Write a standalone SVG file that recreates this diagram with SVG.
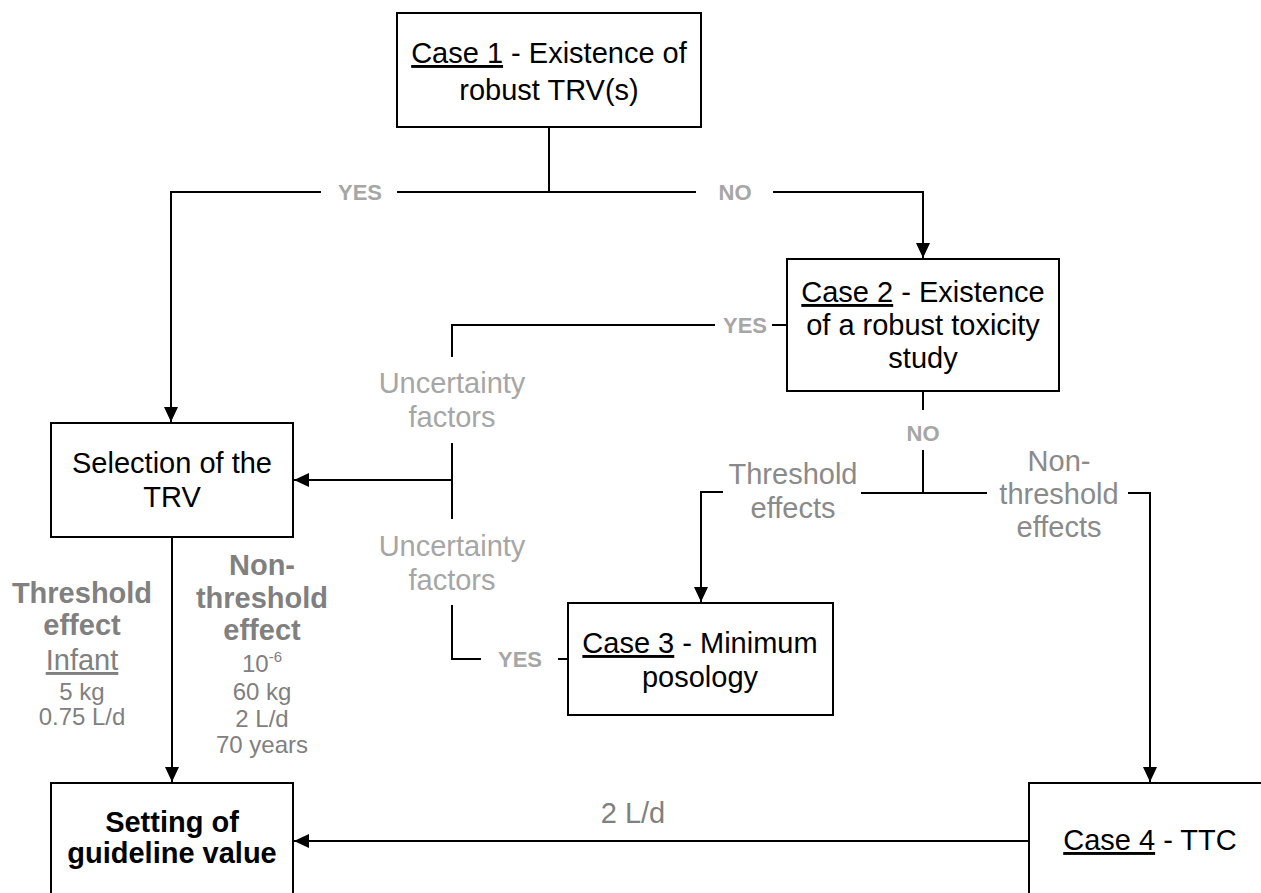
<svg xmlns="http://www.w3.org/2000/svg" width="1261" height="893" viewBox="0 0 1261 893">
<style>
  .box { fill: #fff; stroke: #000; stroke-width: 2; }
  .t { font-family: "Liberation Sans", Arial, sans-serif; font-size: 29px; fill: #000; text-anchor: middle; }
  .b { font-weight: bold; }
  .yn { font-family: "Liberation Sans", Arial, sans-serif; font-size: 22px; font-weight: bold; fill: #a6a6a6; text-anchor: middle; }
  .lg { fill: #a6a6a6; }
  .mg { fill: #8a8a8a; }
  .dg { fill: #808080; }
  .sm { font-size: 24px; }
  .u { text-decoration: underline; }
  .ln { fill: none; stroke: #000; stroke-width: 2; }
</style>
<defs>
  <marker id="ah" markerUnits="userSpaceOnUse" markerWidth="16" markerHeight="14" refX="15" refY="7" orient="auto">
    <path d="M0,0 L15,7 L0,14 Z" fill="#000"/>
  </marker>
</defs>

<g id="connectors">
  <!-- Case 1 split -->
  <path class="ln" d="M549,127 V192"/>
  <path class="ln" d="M321,192 H171 V422" marker-end="url(#ah)"/>
  <path class="ln" d="M397,192 H696"/>
  <path class="ln" d="M773,192 H923 V258" marker-end="url(#ah)"/>
  <!-- Case 2 YES to selection -->
  <path class="ln" d="M715,325 H452 V357"/>
  <path class="ln" d="M772,325 H787"/>
  <path class="ln" d="M452,443 V519"/>
  <path class="ln" d="M452,480 H294" marker-end="url(#ah)"/>
  <path class="ln" d="M452,605 V659 H481"/>
  <path class="ln" d="M558,659 H568"/>
  <!-- Case 2 NO -->
  <path class="ln" d="M923,391 V410"/>
  <path class="ln" d="M923,450 V493"/>
  <path class="ln" d="M861,493 H987"/>
  <path class="ln" d="M723,492 H701 V602" marker-end="url(#ah)"/>
  <path class="ln" d="M1128,493 H1150 V782" marker-end="url(#ah)"/>
  <!-- Selection to setting -->
  <path class="ln" d="M172,537 V782" marker-end="url(#ah)"/>
  <!-- Case 4 to setting -->
  <path class="ln" d="M1029,841 H294" marker-end="url(#ah)"/>
</g>

<g id="labels">
  <text class="yn" x="360" y="200">YES</text>
  <text class="yn" x="735" y="200">NO</text>
  <text class="yn" x="745" y="333">YES</text>
  <text class="yn" x="923" y="441">NO</text>
  <text class="yn" x="520" y="667">YES</text>
  <text class="t lg" x="452" y="393">Uncertainty</text>
  <text class="t lg" x="452" y="427">factors</text>
  <text class="t lg" x="452" y="556">Uncertainty</text>
  <text class="t lg" x="452" y="590">factors</text>
  <text class="t mg" x="793" y="484">Threshold</text>
  <text class="t mg" x="793" y="518">effects</text>
  <text class="t mg" x="1059" y="471">Non-</text>
  <text class="t mg" x="1059" y="504">threshold</text>
  <text class="t mg" x="1059" y="537">effects</text>
  <text class="t dg b" x="82" y="603">Threshold</text>
  <text class="t dg b" x="82" y="635">effect</text>
  <text class="t dg u" x="82" y="670">Infant</text>
  <text class="t dg sm" x="82" y="700">5 kg</text>
  <text class="t dg sm" x="82" y="725">0.75 L/d</text>
  <text class="t dg b" x="262" y="575">Non-</text>
  <text class="t dg b" x="262" y="608">threshold</text>
  <text class="t dg b" x="262" y="640">effect</text>
  <text class="t dg sm" x="262" y="672">10<tspan font-size="15" dy="-10">-6</tspan></text>
  <text class="t dg sm" x="262" y="700">60 kg</text>
  <text class="t dg sm" x="262" y="727">2 L/d</text>
  <text class="t dg sm" x="262" y="753">70 years</text>
  <text class="t dg" x="633" y="823">2 L/d</text>
</g>

<g id="case1">
  <rect class="box" x="397" y="13" width="304" height="114"/>
  <text class="t" x="549" y="63"><tspan class="u">Case 1</tspan> - Existence of</text>
  <text class="t" x="549" y="100">robust TRV(s)</text>
</g>
<g id="case2">
  <rect class="box" x="787" y="259" width="272" height="132"/>
  <text class="t" x="923" y="302"><tspan class="u">Case 2</tspan> - Existence</text>
  <text class="t" x="923" y="335">of a robust toxicity</text>
  <text class="t" x="923" y="368">study</text>
</g>
<g id="selection">
  <rect class="box" x="51" y="423" width="242" height="114"/>
  <text class="t" x="172" y="473">Selection of the</text>
  <text class="t" x="172" y="507">TRV</text>
</g>
<g id="case3">
  <rect class="box" x="568" y="603" width="265" height="112"/>
  <text class="t" x="700" y="653"><tspan class="u">Case 3</tspan> - Minimum</text>
  <text class="t" x="700" y="687">posology</text>
</g>
<g id="setting">
  <rect class="box" x="51" y="783" width="242" height="130"/>
  <text class="t b" x="172" y="832">Setting of</text>
  <text class="t b" x="172" y="863">guideline value</text>
</g>
<g id="case4">
  <rect class="box" x="1029" y="783" width="260" height="130"/>
  <text class="t" x="1150" y="850"><tspan class="u">Case 4</tspan> - TTC</text>
</g>
</svg>
